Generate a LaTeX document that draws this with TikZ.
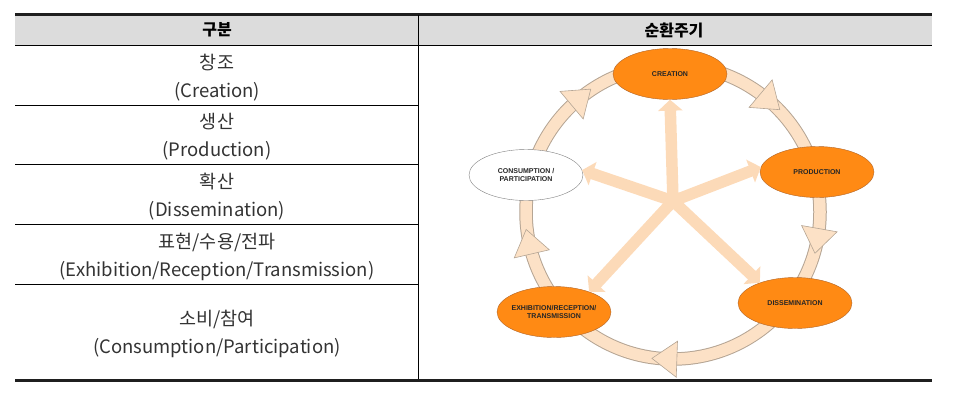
\documentclass[tikz,border=0pt]{standalone}
\usepackage{fontspec}
\setmainfont{Noto Sans CJK KR}
\newfontfamily\stagefont{Liberation Sans}
\usepackage{tikz}
\usetikzlibrary{shapes,arrows.meta}

\definecolor{headgray}{HTML}{DCDCDC}
\definecolor{stageorange}{HTML}{FF8A14}
\definecolor{stageedge}{HTML}{B0652A}
\definecolor{ringpeach}{HTML}{FCE1C6}
\definecolor{ringedge}{HTML}{B5A594}
\definecolor{spokepeach}{HTML}{FCDAB8}

\begin{document}
\begin{tikzpicture}[
    x=1pt, y=-1pt,
    rule/.style={line width=0.9pt},
    thickrule/.style={line width=3pt, black!88},
    cell/.style={align=center, font=\fontsize{18.5}{28}\selectfont, text=black!80},
    head/.style={font=\fontsize{16}{18}\selectfont\bfseries},
    stage/.style={ellipse, draw=stageedge, fill=stageorange, minimum width=114pt, minimum height=51pt,
        inner xsep=-15pt, inner ysep=0pt, align=center, text=black!85,
        font=\stagefont\bfseries\fontsize{7}{8.5}\selectfont},
    spoke/.style={-{Triangle[width=24pt,length=11pt]}, line width=11.5pt, spokepeach},
    ringtip/.style={fill=ringpeach, draw=ringedge, line width=0.6pt}
]
    \useasboundingbox (0,0) rectangle (979,400);

    \fill[headgray] (15,15) rectangle (932,45);
    \draw[thickrule] (15,14) -- (932,14);
    \draw[rule] (15,45) -- (932,45);
    \foreach \y in {105,164,224,284}
        \draw[rule] (15,\y) -- (418,\y);
    \draw[rule] (418,15) -- (418,380);
    \draw[thickrule] (15,380) -- (932,380);

    \node[head] (hstage) at (217,30) {구분};
    \node[head] (hcycle) at (674,30) {순환주기};
    \node[cell] (rcreation) at (217,78) {창조\\(Creation)};
    \node[cell] (rproduction) at (217,137) {생산\\(Production)};
    \node[cell] (rdissemination) at (217,197) {확산\\(Dissemination)};
    \node[cell] (rexhibition) at (217,257) {표현/수용/전파\\(Exhibition/Reception/Transmission)};
    \node[cell] (rconsumption) at (217,334) {소비/참여\\(Consumption/Participation)};

    \begin{scope}[shift={(673,212)}, y=1pt]
        \draw[line width=13.5pt, ringedge] (0,0) circle (147);
        \draw[line width=11.5pt, ringpeach] (0,0) circle (147);
        \foreach \a in {50,-10,-92,193,130}
            \draw[ringtip, shift={(\a:147)}, rotate=\a] (-18,9) -- (18,9) -- (0,-16) -- cycle;
    \end{scope}

    \coordinate (hub) at (673,201);
    \node[stage] (creation) at (670,74) {CREATION};
    \node[stage] (production) at (817,172) {PRODUCTION};
    \node[stage] (dissemination) at (795,303) {DISSEMINATION};
    \node[stage] (exhibition) at (554,312) {EXHIBITION/RECEPTION/\\TRANSMISSION};
    \node[stage, fill=white, draw=gray] (consumption) at (526,175) {CONSUMPTION /\\PARTICIPATION};

    \draw[spoke] (hub) -- (creation.south);
    \draw[spoke] (hub) -- (production.175);
    \draw[spoke] (hub) -- (dissemination.150);
    \draw[spoke] (hub) -- (exhibition.30);
    \draw[spoke] (hub) -- (consumption.5);
\end{tikzpicture}
\end{document}
